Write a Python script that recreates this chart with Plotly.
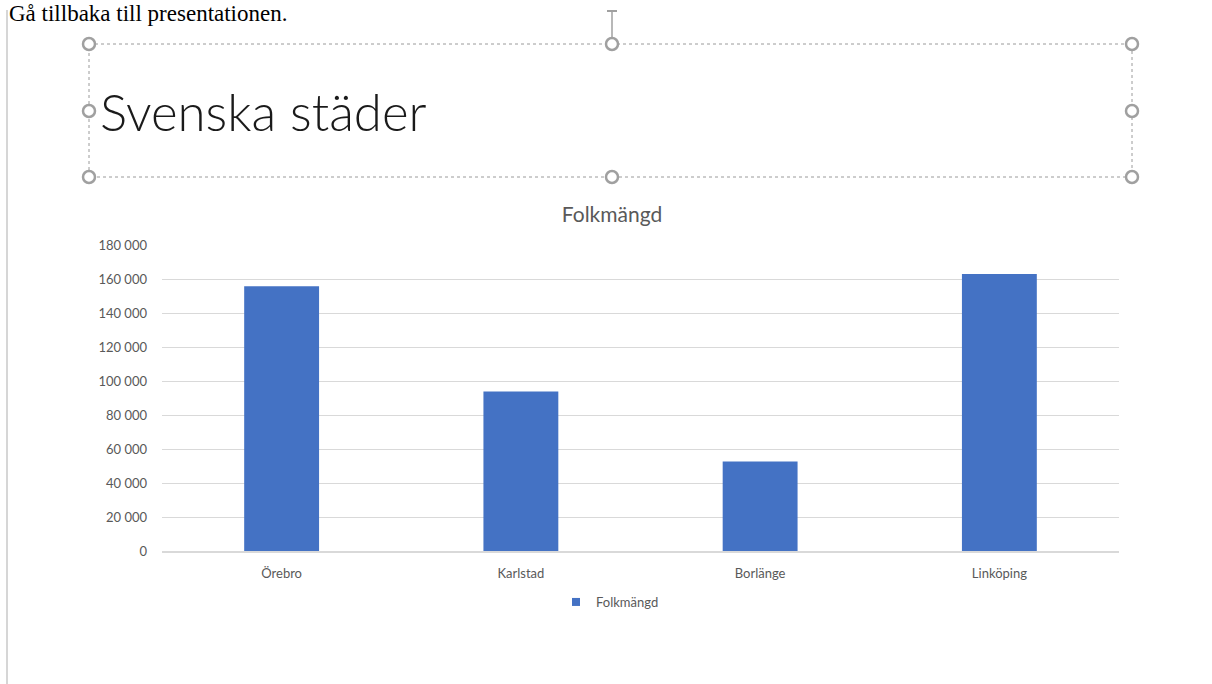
import plotly.graph_objects as go

# ---- data ----
cities = ["Örebro", "Karlstad", "Borlänge", "Linköping"]
population = [155700, 93800, 52600, 163000]
series_name = "Folkmängd"
y_tickvals = [0, 20000, 40000, 60000, 80000, 100000, 120000, 140000, 160000, 180000]
y_ticktext = ["0", "20 000", "40 000", "60 000", "80 000", "100 000",
              "120 000", "140 000", "160 000", "180 000"]

FIG_W, FIG_H = 1212, 684
L, R, T, B = 162, 1119, 245, 551
W, H = R - L, B - T


def px(x):
    return (x - L) / W


def py(y):
    return (B - y) / H


BAR = "#4472C4"
GREY_TXT = "#595959"
HANDLE = "#A0A0A0"

fig = go.Figure()
fig.add_trace(go.Bar(x=cities, y=population, name=series_name,
                     marker=dict(color=BAR, line=dict(width=0)),
                     showlegend=False))
# legend-only entry with a small square key
fig.add_trace(go.Scatter(x=[None], y=[None], mode="markers", name=series_name,
                         marker=dict(symbol="square", size=8, color=BAR),
                         showlegend=True))

shapes = []
# left page edge line
shapes.append(dict(type="line", xref="paper", yref="paper",
                   x0=px(7), x1=px(7), y0=py(10), y1=py(684),
                   line=dict(color="#C8C8C8", width=1.5)))
# dotted title box
shapes.append(dict(type="rect", xref="paper", yref="paper",
                   x0=px(89), x1=px(1132), y0=py(44), y1=py(177),
                   line=dict(color="#9A9A9A", width=1, dash="dot")))
# rotation handle
shapes.append(dict(type="line", xref="paper", yref="paper",
                   x0=px(612), x1=px(612), y0=py(11), y1=py(38),
                   line=dict(color=HANDLE, width=1.5)))
shapes.append(dict(type="line", xref="paper", yref="paper",
                   x0=px(607), x1=px(617), y0=py(11), y1=py(11),
                   line=dict(color=HANDLE, width=2)))
# resize handles
r = 6
for (hx, hy) in [(89, 44), (612, 44), (1132, 44), (89, 111), (1132, 111),
                 (89, 177), (612, 177), (1132, 177)]:
    shapes.append(dict(type="circle", xref="paper", yref="paper",
                       x0=px(hx - r), x1=px(hx + r), y0=py(hy + r), y1=py(hy - r),
                       fillcolor="white", line=dict(color=HANDLE, width=2.5)))

annotations = [
    dict(text="Svenska städer", xref="paper", yref="paper",
         x=px(98), y=py(111), xanchor="left", yanchor="middle", showarrow=False,
         font=dict(family="Lato", size=51, color="#1a1a1a", weight=300)),
    dict(text="Gå tillbaka till presentationen.", xref="paper", yref="paper",
         x=px(8), y=py(0), xanchor="left", yanchor="top", showarrow=False,
         borderpad=0,
         font=dict(family="Liberation Serif", size=23, color="black")),
]

fig.update_layout(
    width=FIG_W, height=FIG_H,
    margin=dict(l=L, r=FIG_W - R, t=T, b=FIG_H - B, pad=0),
    paper_bgcolor="white", plot_bgcolor="white",
    font=dict(family="Lato", color=GREY_TXT, size=13),
    title=dict(text=series_name, x=612 / FIG_W, xref="container", xanchor="center",
               y=1 - 215 / FIG_H, yref="container", yanchor="middle",
               font=dict(family="Lato", size=21, color=GREY_TXT)),
    bargap=0.687,
    showlegend=True,
    legend=dict(orientation="h", x=px(556), xanchor="left", y=py(602), yanchor="middle",
                font=dict(family="Lato", size=13, color=GREY_TXT),
                itemwidth=30, bgcolor="rgba(0,0,0,0)"),
    shapes=shapes,
    annotations=annotations,
)
fig.update_xaxes(showgrid=False, showline=True, linecolor="#D9D9D9", linewidth=1.5,
                 ticks="", ticklabelstandoff=10, tickfont=dict(size=13, color=GREY_TXT),
                 zeroline=False, fixedrange=True)
fig.update_yaxes(range=[0, 180000], tickvals=y_tickvals, ticktext=y_ticktext,
                 showgrid=True, gridcolor="#D9D9D9", gridwidth=1, zeroline=False,
                 showline=False, ticks="", ticklabelstandoff=14,
                 tickfont=dict(size=13, color=GREY_TXT), fixedrange=True)

fig.write_html("out.html", config={"displayModeBar": False},
               post_script="document.body.style.margin='0';document.body.style.overflow='hidden';")
